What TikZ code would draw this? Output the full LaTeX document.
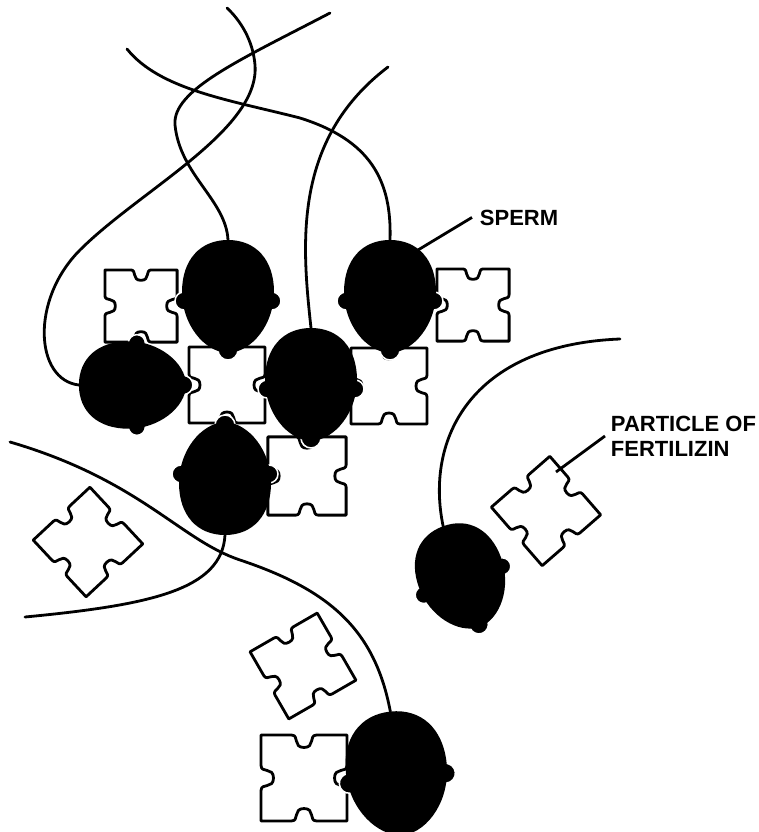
\documentclass[tikz,border=0pt]{standalone}
\usepackage{xcolor}
\usepackage{tikz}
\usepackage{fontspec}
\newfontfamily\labelfont{Liberation Sans}

\tikzset{
  tail/.style={line width=2.8pt, line cap=round},
  leader/.style={line width=2.8pt},
  particle line/.style={line width=2.8pt, line join=round, fill=white},
  knob/.style={fill=black, draw=white, line width=1.5pt},
  label text/.style={font=\labelfont\bfseries\fontsize{22}{25}\selectfont, inner sep=0.75pt, align=left},
  particle/.pic={
    \draw[particle line] (-38,-38) -- (-11,-38) .. controls (-4,-38) and (-10,-27) .. (0,-27) .. controls (10,-27) and (4,-38) .. (11,-38)
      -- (38,-38) -- (38,-11) .. controls (38,-4) and (27,-10) .. (27,0) .. controls (27,10) and (38,4) .. (38,11)
      -- (38,38) -- (11,38) .. controls (4,38) and (10,27) .. (0,27) .. controls (-10,27) and (-4,38) .. (-11,38)
      -- (-38,38) -- (-38,11) .. controls (-38,4) and (-27,10) .. (-27,0) .. controls (-27,-10) and (-38,-4) .. (-38,-11)
      -- cycle;
  },
  sperm head/.pic={
    \fill[knob] (-44,-3) circle (9pt) (44,-3) circle (9pt) (0,-52) circle (10pt);
    \fill (0,58) .. controls (28,58) and (46,38) .. (46,6) .. controls (46,-26) and (24,-54) .. (0,-55) .. controls (-24,-54) and (-46,-26) .. (-46,6) .. controls (-46,38) and (-28,58) .. (0,58) -- cycle;
    \coordinate (-tail) at (0,58);
  },
}

\begin{document}
\begin{tikzpicture}[x=1pt,y=1pt,yscale=-1,xscale=1]
\useasboundingbox (0,0) rectangle (759,832);
%Particles
\pic[scale=0.95] (p1) at (141,306) {particle};
\pic (p2) at (227,385) {particle};
\pic[scale=0.95] (p3) at (473,305) {particle};
\pic (p4) at (389,386) {particle};
\pic[scale=1.03] (p5) at (307,476) {particle};
\pic[scale=1.02, rotate=43] (p6) at (88,542) {particle};
\pic[scale=1.02, rotate=41] (p7) at (546,511) {particle};
\pic[scale=1.02, rotate=30] (p8) at (303,666) {particle};
\pic[scale=1.13] (p9) at (304,778) {particle};
%Heads
\pic (h1) at (228,298) {sperm head};
\pic (h2) at (390,298) {sperm head};
\pic[rotate=90, scale=0.95] (h3) at (134,385) {sperm head};
\pic (h4) at (311,386) {sperm head};
\pic[rotate=180] (h5) at (225,477) {sperm head};
\pic[rotate=20, scale=0.95] (h6) at (462,578) {sperm head};
\pic[rotate=6, scale=1.1] (h7) at (397,775) {sperm head};
%Tails
\draw[tail] (h1-tail) .. controls (226,200) and (180,175) .. (175,125) .. controls (172,90) and (240,60) .. (330,13);
\draw[tail] (h2-tail) .. controls (392,180) and (370,140) .. (300,118) .. controls (230,100) and (160,90) .. (127,49);
\draw[tail] (h3-tail) .. controls (35,380) and (30,300) .. (80,250) .. controls (140,190) and (260,130) .. (255,65) .. controls (253,40) and (240,20) .. (227,8);
\draw[tail] (h4-tail) .. controls (302,245) and (292,140) .. (388,67);
\draw[tail] (h5-tail) .. controls (222,590) and (150,605) .. (25,617);
\draw[tail] (h6-tail) .. controls (425,440) and (470,345) .. (620,339);
\draw[tail] (h7-tail) .. controls (375,630) and (330,590) .. (240,560) .. controls (180,540) and (140,480) .. (10,442);
%Text
\node (sperm) [label text, anchor=base west] at (479,225) {SPERM};
\node (fertilizin) [label text, anchor=west] at (610,436) {PARTICLE OF\\FERTILIZIN};
\coordinate (sperm end) at (418,250);
\coordinate (fertilizin end) at (556,472);
\draw[leader] ([xshift=-7pt]sperm.west) -- (sperm end);
\draw[leader] ([xshift=-5pt]fertilizin.west) -- (fertilizin end);
\end{tikzpicture}
\end{document}
